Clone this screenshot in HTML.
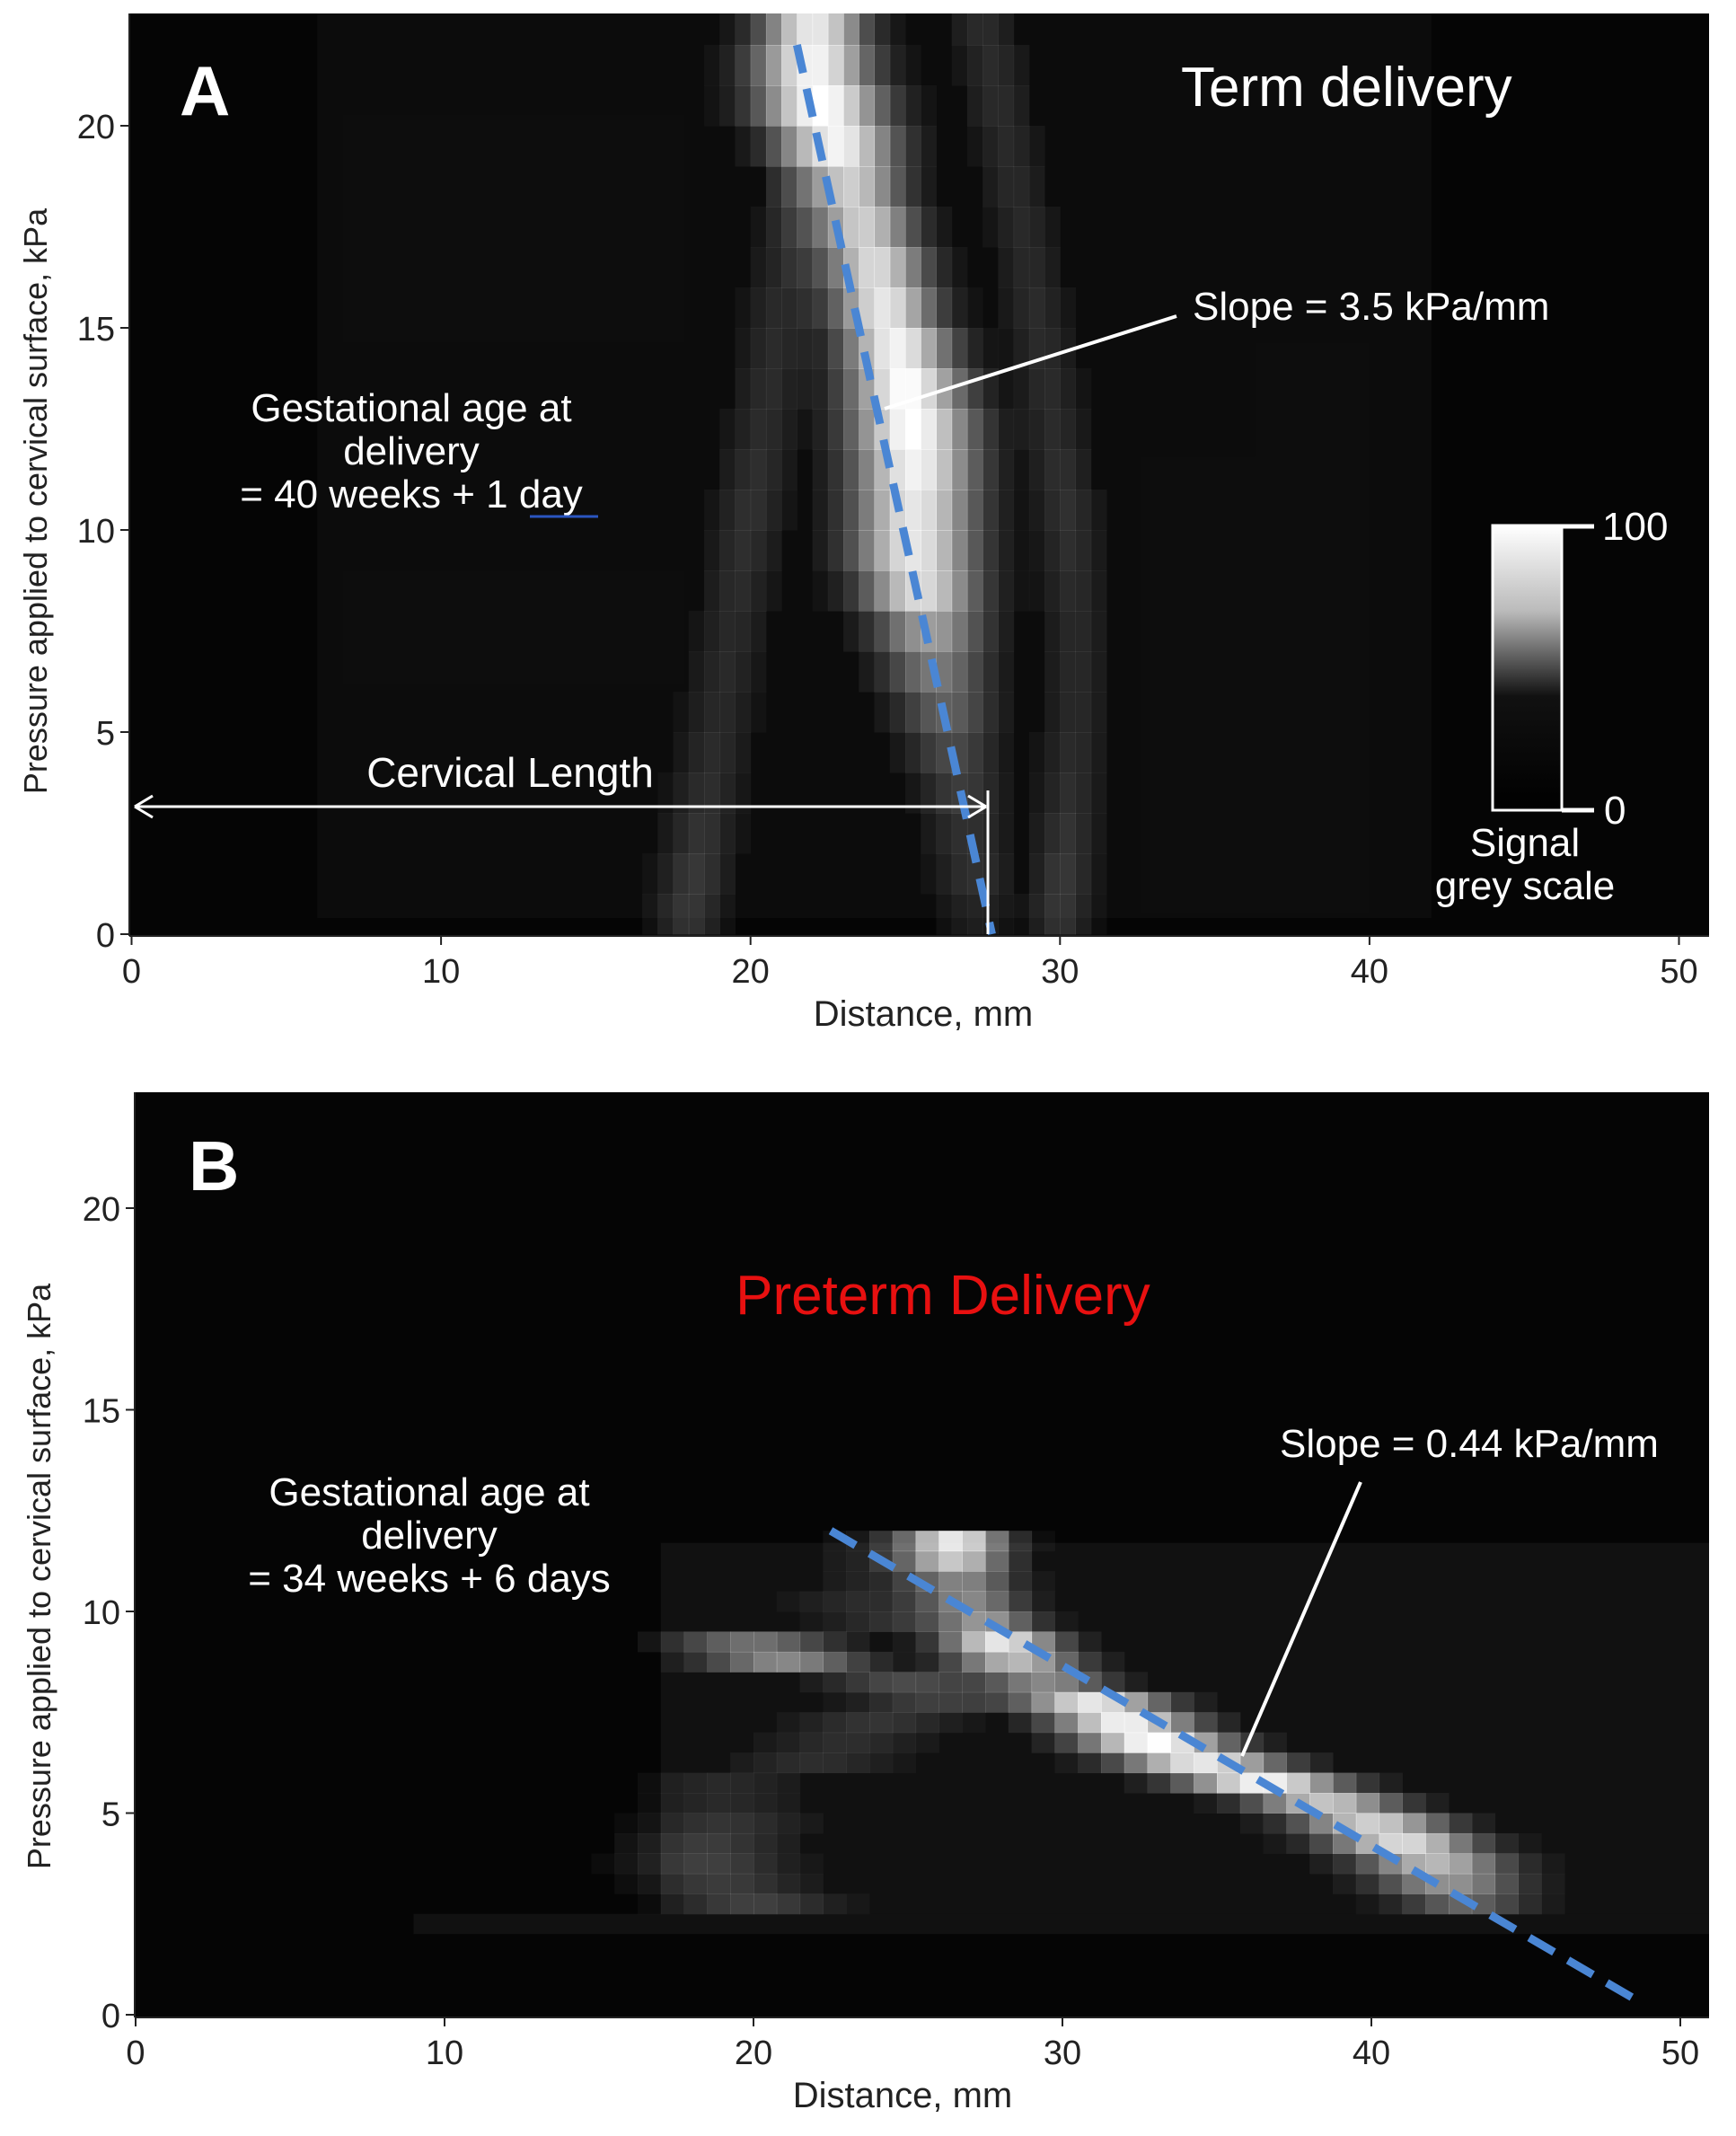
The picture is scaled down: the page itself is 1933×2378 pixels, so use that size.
<!DOCTYPE html>
<html><head><meta charset="utf-8">
<style>
html,body{margin:0;padding:0;background:#fff;}
svg{display:block;font-family:"Liberation Sans",sans-serif;}
</style></head>
<body>
<svg id="fig" width="1933" height="2378" viewBox="0 0 1933 2378" xmlns="http://www.w3.org/2000/svg">
<defs>
<linearGradient id="cbar" x1="0" y1="0" x2="0" y2="1">
<stop offset="0" stop-color="#fff"/><stop offset="0.3" stop-color="#bbb"/><stop offset="0.6" stop-color="#111"/><stop offset="1" stop-color="#000"/>
</linearGradient>
</defs>
<g id="panelA"></g>
<g id="panelB"></g>
</svg>
<script>
// ---------- DATA ----------
const xTicks = [0,10,20,30,40,50];
const yTicks = [0,5,10,15,20];
// Panel A main ridge (per pressure row)
const aRows = [0,1,2,3,4,5,6,7,8,9,10,11,12,13,14,15,16,17,18,19,20,21,22];
const aCenters = [27.3,27.2,27,26.8,26.5,26.3,26,25.8,25.5,25.3,25.3,25.3,25.2,25,24.7,24.3,24,23.6,23.2,22.8,22.3,22,22];
const aPeaks = [0.1,0.15,0.15,0.2,0.25,0.35,0.45,0.6,0.85,0.9,0.9,0.95,1,1,0.95,0.9,0.85,0.8,0.8,0.95,1,0.95,0.9];
const aWidths = [1.2,1.2,1.3,1.3,1.4,1.5,1.6,1.7,1.8,1.9,1.9,1.9,1.9,1.8,1.7,1.6,1.6,1.6,1.6,1.8,1.9,1.8,1.6];
// Panel A secondary faint ridges
const aLeftCenters = [18,18.2,18.4,18.6,18.8,19,19.2,19.4,19.6,19.8,20,20.2,20.4,20.6,20.8,21,21.2,21.4,21.6,21.8,22,22.2,22.4];
const aRightCenters = [30,30.1,30.2,30.3,30.4,30.5,30.5,30.5,30.4,30.3,30.2,30,29.8,29.6,29.4,29.2,29,28.8,28.5,28.3,28,27.8,27.5];
const aSecondPeak = [0.18,0.18,0.16,0.14,0.13,0.12,0.12,0.12,0.13,0.14,0.15,0.14,0.13,0.13,0.13,0.13,0.12,0.12,0.12,0.12,0.13,0.13,0.13];
// Panel B band
const bRows = [2.5,3,3.5,4,4.5,5,5.5,6,6.5,7,7.5,8,8.5,9,9.5,10,10.5,11,11.5];
const bCenters = [43,42.5,42,41,40,38.5,36.5,34.5,33,32,31,29.5,28.5,28,27.5,27,26.8,26.5,26.5];
const bPeaks = [0.35,0.55,0.7,0.85,0.8,0.75,0.95,0.9,1,0.95,0.9,0.5,0.7,0.9,0.55,0.5,0.45,0.75,0.9];
const bWidths = [2,2.2,2.3,2.3,2.3,2.3,2.5,2.5,2.3,2.2,2.2,2,2,1.8,1.6,1.6,1.6,1.6,1.6];
const bLeftCenters = [20,19,18.5,18.5,19,19,19,22,23,24,26,25,21,20,25,24,25,25,25];
const bLeftPeaks = [0.2,0.18,0.2,0.18,0.15,0.1,0.1,0.12,0.12,0.15,0.2,0.25,0.5,0.4,0.15,0.12,0.12,0.12,0.12];

// ---------- HELPERS ----------
const NS="http://www.w3.org/2000/svg";
function mk(tag, attrs, parent){const e=document.createElementNS(NS,tag);for(const k in attrs)e.setAttribute(k,attrs[k]);parent.appendChild(e);return e;}

function panel(g, cfg){
  const sx = v => cfg.x0 + v*cfg.pxmm;
  const sy = v => cfg.y0 - v*cfg.pxkpa;
  const bg = mk('rect',{x:cfg.left,y:cfg.top,width:cfg.right-cfg.left,height:cfg.bottom-cfg.top,fill:'#050505'},g);
  
  
  const heat = mk('g',{},g);
  
  
  return {sx,sy,heat};
}
function drawRidge(heat, sx, sy, rows, centers, peaks, widths, dy, step, xmin, xmax){
  rows.forEach((p,i)=>{
    for(let x=xmin;x<xmax;x+=step){
      const d=(x+step/2-centers[i])/widths[i];
      const v=peaks[i]*Math.exp(-d*d);
      if(v<0.03) continue;
      const r=mk('rect',{x:sx(x),y:sy(p+dy),width:sx(x+step)-sx(x)+0.5,height:sy(p)-sy(p+dy)+0.5,fill:'#fff','fill-opacity':v.toFixed(3)},heat);
      
      
    }
  });
}
function axes(g, sx, sy, cfg){
  const ax = mk('g',{},g);
  
  
  mk('line',{x1:cfg.left,y1:cfg.bottom,x2:cfg.right,y2:cfg.bottom,stroke:'#222','stroke-width':2},ax);
  mk('line',{x1:cfg.left,y1:cfg.top,x2:cfg.left,y2:cfg.bottom,stroke:'#222','stroke-width':2},ax);
  xTicks.forEach(t=>{
    mk('line',{x1:sx(t),y1:cfg.bottom,x2:sx(t),y2:cfg.bottom+10,stroke:'#222','stroke-width':2},ax);
    const tx=mk('text',{x:sx(t),y:cfg.bottom+52,'text-anchor':'middle','font-size':38,fill:'#222'},ax);
    tx.textContent=t;
    
    
  });
  yTicks.forEach(t=>{
    mk('line',{x1:cfg.left-10,y1:sy(t),x2:cfg.left,y2:sy(t),stroke:'#222','stroke-width':2},ax);
    const tx=mk('text',{x:cfg.left-16,y:sy(t)+14,'text-anchor':'end','font-size':38,fill:'#222'},ax);
    tx.textContent=t;
    
    
  });
  const xl=mk('text',{x:cfg.xlabelX,y:cfg.bottom+100,'text-anchor':'middle','font-size':40,fill:'#222'},ax);
  xl.textContent='Distance, mm';
  
  
  const yl=mk('text',{x:0,y:0,'text-anchor':'middle','font-size':36,fill:'#222',transform:`translate(${cfg.ylabelX},${cfg.ylabelY}) rotate(-90)`},ax);
  yl.textContent='Pressure applied to cervical surface, kPa';
  
  
}
function txt(g,x,y,s,size,fill,name,anchor,weight){
  const t=mk('text',{x:x,y:y,'font-size':size,fill:fill,'text-anchor':anchor||'start','font-weight':weight||'normal'},g);
  t.textContent=s;
  
  
  return t;
}

// ---------- PANEL A ----------
const gA=document.getElementById('panelA');
const cA={left:144,right:1903,top:15,bottom:1042,x0:146.5,pxmm:34.46,y0:1040,pxkpa:45.0,xlabelX:1028,ylabelX:52,ylabelY:558};
const pA=panel(gA,cA);
const bgA=mk('rect',{x:pA.sx(6),y:cA.top,width:pA.sx(42)-pA.sx(6),height:pA.sy(0.4)-cA.top,fill:'#fff','fill-opacity':0.03},pA.heat);


drawRidge(pA.heat,pA.sx,pA.sy,aRows,aLeftCenters,aSecondPeak,aWidths.map(()=>1.1),1,0.5,0,51);
drawRidge(pA.heat,pA.sx,pA.sy,aRows,aRightCenters,aSecondPeak,aWidths.map(()=>1.0),1,0.5,0,51);
drawRidge(pA.heat,pA.sx,pA.sy,aRows,aCenters,aPeaks,aWidths,1,0.5,0,51);
mk('rect',{x:cA.left,y:0,width:cA.right-cA.left,height:cA.top,fill:'#fff'},gA);
axes(gA,pA.sx,pA.sy,cA);
const dA=mk('line',{x1:pA.sx(21.5),y1:pA.sy(22),x2:pA.sx(27.8),y2:pA.sy(0),stroke:'#4a86d4','stroke-width':9,'stroke-dasharray':'32 18'},gA);


txt(gA,200,128,'A',78,'#fff','panel-label','start','bold');
txt(gA,1315,118,'Term delivery',62,'#fff','panel-title');
txt(gA,1328,356,'Slope = 3.5 kPa/mm',44,'#fff','slope-label');
mk('line',{x1:1310,y1:352,x2:985,y2:455,stroke:'#fff','stroke-width':4},gA);
txt(gA,458,469,'Gestational age at',44,'#fff','gestational-age-label','middle');
txt(gA,458,517,'delivery',44,'#fff','gestational-age-label','middle');
txt(gA,458,565,'= 40 weeks + 1 day',44,'#fff','gestational-age-label','middle');
mk('line',{x1:590,y1:575,x2:666,y2:575,stroke:'#2a55c0','stroke-width':3},gA);
txt(gA,568,876,'Cervical Length',46,'#fff','cervical-length-label','middle');
mk('line',{x1:150,y1:898,x2:1098,y2:898,stroke:'#fff','stroke-width':3},gA);
mk('path',{d:'M150 898 L170 886 M150 898 L170 910 M1098 898 L1078 886 M1098 898 L1078 910',stroke:'#fff','stroke-width':3,fill:'none'},gA);
mk('line',{x1:1100,y1:880,x2:1100,y2:1040,stroke:'#fff','stroke-width':3},gA);
const cb=mk('rect',{x:1662,y:585,width:77,height:317,fill:'url(#cbar)',stroke:'#fff','stroke-width':3},gA);


mk('line',{x1:1739,y1:586,x2:1775,y2:586,stroke:'#fff','stroke-width':5},gA);
mk('line',{x1:1739,y1:902,x2:1775,y2:902,stroke:'#fff','stroke-width':5},gA);
txt(gA,1784,601,'100',44,'#fff','colorbar-max');
txt(gA,1786,917,'0',44,'#fff','colorbar-min');
txt(gA,1698,953,'Signal',44,'#fff','colorbar-title','middle');
txt(gA,1698,1001,'grey scale',44,'#fff','colorbar-title','middle');

// ---------- PANEL B ----------
const gB=document.getElementById('panelB');
const cB={left:150,right:1903,top:1216,bottom:2246,x0:151,pxmm:34.4,y0:2243,pxkpa:44.9,xlabelX:1005,ylabelX:56,ylabelY:1755};
const pB=panel(gB,cB);
const bgB=mk('rect',{x:pB.sx(17),y:pB.sy(11.7),width:cB.right-pB.sx(17),height:pB.sy(2.5)-pB.sy(11.7),fill:'#fff','fill-opacity':0.05},pB.heat);


const bgB2=mk('rect',{x:pB.sx(9),y:pB.sy(2.5),width:cB.right-pB.sx(9),height:pB.sy(2)-pB.sy(2.5),fill:'#fff','fill-opacity':0.05},pB.heat);


drawRidge(pB.heat,pB.sx,pB.sy,bRows,bLeftCenters,bLeftPeaks,bRows.map(()=>2.5),0.5,0.75,8,51);
drawRidge(pB.heat,pB.sx,pB.sy,bRows,bCenters,bPeaks,bWidths,0.5,0.75,8,51);
axes(gB,pB.sx,pB.sy,cB);
const dB=mk('line',{x1:pB.sx(22.5),y1:pB.sy(12),x2:pB.sx(48.5),y2:pB.sy(0.4),stroke:'#4a86d4','stroke-width':9,'stroke-dasharray':'32 18'},gB);


txt(gB,210,1325,'B',78,'#fff','panel-label','start','bold');
txt(gB,1050,1463,'Preterm Delivery',62,'#e81010','panel-title','middle');
txt(gB,1425,1622,'Slope = 0.44 kPa/mm',44,'#fff','slope-label');
mk('line',{x1:1515,y1:1650,x2:1383,y2:1955,stroke:'#fff','stroke-width':4},gB);
txt(gB,478,1676,'Gestational age at',44,'#fff','gestational-age-label','middle');
txt(gB,478,1724,'delivery',44,'#fff','gestational-age-label','middle');
txt(gB,478,1772,'= 34 weeks + 6 days',44,'#fff','gestational-age-label','middle');
</script>
</body></html>
